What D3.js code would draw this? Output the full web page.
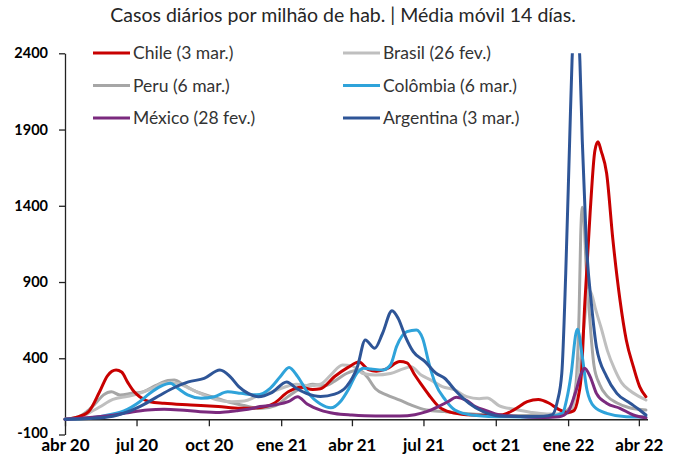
<!DOCTYPE html>
<html><head><meta charset="utf-8">
<script src="https://cdn.jsdelivr.net/npm/d3@7"></script>
<style>body{margin:0;background:#fff}svg{display:block}</style>
</head><body>
<svg id="chart" width="680" height="456"></svg>
<script>
// ---------- data ----------
const titleText = "Casos diários por milhão de hab. | Média móvil 14 días.";
const yTickValues = [-100, 400, 900, 1400, 1900, 2400];
const xTickDates = ["2020-04-01","2020-07-01","2020-10-01","2021-01-01","2021-04-01","2021-07-01","2021-10-01","2022-01-01","2022-04-01"];
const xTickLabels = ["abr 20","jul 20","oct 20","ene 21","abr 21","jul 21","oct 21","ene 22","abr 22"];
const seriesNames = ["Chile (3 mar.)","Brasil (26 fev.)","Peru (6 mar.)","Colômbia (6 mar.)","México (28 fev.)","Argentina (3 mar.)"];
const seriesColors = ["#C80000","#BFBFBF","#A6A6A6","#2FA3DA","#7B2A7E","#2E5597"];

const chileDates = ["2020-04-01","2020-04-15","2020-05-01","2020-05-15","2020-05-25","2020-06-05","2020-06-12","2020-06-20","2020-06-28","2020-07-05","2020-07-18","2020-08-05","2020-09-08","2020-10-13","2020-11-10","2020-12-02","2020-12-23","2021-01-10","2021-01-26","2021-02-10","2021-02-20","2021-03-10","2021-03-27","2021-04-10","2021-04-22","2021-05-02","2021-05-15","2021-06-01","2021-06-10","2021-06-20","2021-06-28","2021-07-08","2021-07-20","2021-08-05","2021-08-25","2021-09-20","2021-10-10","2021-10-25","2021-11-10","2021-11-24","2021-12-08","2021-12-20","2022-01-01","2022-01-08","2022-01-14","2022-01-18","2022-01-22","2022-01-29","2022-02-04","2022-02-08","2022-02-12","2022-02-19","2022-02-27","2022-03-08","2022-03-16","2022-03-25","2022-04-02","2022-04-10"];
const chileValues = [0,12,50,180,285,323,310,240,180,148,115,105,94,83,72,75,105,180,210,195,200,280,340,375,325,315,330,378,370,290,230,159,85,45,30,25,30,65,115,130,105,65,45,55,148,303,738,1353,1760,1820,1760,1613,1176,782,520,345,214,148];

const brasilDates = ["2020-04-01","2020-04-20","2020-05-01","2020-05-15","2020-06-01","2020-06-20","2020-07-05","2020-07-20","2020-08-05","2020-08-20","2020-09-05","2020-09-20","2020-10-10","2020-10-30","2020-11-15","2020-12-01","2020-12-20","2021-01-05","2021-01-20","2021-02-05","2021-02-20","2021-03-05","2021-03-20","2021-04-01","2021-04-15","2021-05-01","2021-05-20","2021-06-05","2021-06-15","2021-06-28","2021-07-10","2021-07-25","2021-08-10","2021-08-25","2021-09-10","2021-09-20","2021-10-05","2021-10-25","2021-11-15","2021-12-05","2021-12-20","2022-01-01","2022-01-08","2022-01-13","2022-01-18","2022-01-22","2022-01-27","2022-01-31","2022-02-05","2022-02-12","2022-02-20","2022-03-01","2022-03-10","2022-03-20","2022-04-01","2022-04-10"];
const brasilValues = [0,10,40,80,130,150,170,200,236,236,205,170,130,115,120,150,180,210,230,220,230,290,356,350,300,290,300,330,345,290,258,214,192,148,135,140,90,65,45,35,35,40,100,250,450,650,850,820,720,600,450,330,240,190,150,126];

const peruDates = ["2020-04-01","2020-04-20","2020-05-01","2020-05-10","2020-05-20","2020-05-30","2020-06-10","2020-06-25","2020-07-10","2020-07-25","2020-08-10","2020-08-18","2020-08-30","2020-09-15","2020-10-05","2020-10-25","2020-11-15","2020-12-05","2020-12-25","2021-01-10","2021-01-25","2021-02-10","2021-02-25","2021-03-10","2021-03-25","2021-04-10","2021-04-20","2021-05-01","2021-05-15","2021-06-01","2021-06-15","2021-07-05","2021-07-28","2021-08-20","2021-09-20","2021-10-20","2021-11-20","2021-12-15","2021-12-31","2022-01-08","2022-01-12","2022-01-15","2022-01-17","2022-01-19","2022-01-21","2022-01-24","2022-01-28","2022-01-31","2022-02-03","2022-02-10","2022-02-20","2022-03-05","2022-03-20","2022-04-10"];
const peruValues = [0,20,60,105,160,181,159,170,181,220,255,258,225,181,148,115,90,70,90,150,200,230,220,250,300,323,280,200,160,125,94,61,50,40,30,25,25,30,60,130,300,700,1200,1390,1330,1000,700,500,350,230,150,105,75,60];

const colombiaDates = ["2020-04-01","2020-05-01","2020-06-01","2020-06-15","2020-07-05","2020-07-18","2020-07-31","2020-08-13","2020-08-22","2020-09-04","2020-09-21","2020-10-08","2020-10-25","2020-11-11","2020-12-01","2020-12-18","2020-12-31","2021-01-11","2021-01-22","2021-02-03","2021-02-20","2021-03-05","2021-03-18","2021-03-28","2021-04-07","2021-04-16","2021-04-25","2021-05-10","2021-05-20","2021-05-28","2021-06-10","2021-06-22","2021-06-30","2021-07-08","2021-07-16","2021-07-29","2021-08-10","2021-08-31","2021-10-01","2021-11-01","2021-12-01","2021-12-25","2021-12-30","2022-01-05","2022-01-11","2022-01-13","2022-01-19","2022-01-25","2022-02-03","2022-02-19","2022-03-16","2022-04-10"];
const colombiaValues = [0,8,35,55,115,170,214,236,205,160,138,148,180,170,160,203,280,340,280,181,100,75,120,200,300,334,330,323,356,480,575,586,530,367,236,126,61,28,17,15,12,40,126,302,564,590,411,192,83,39,17,15];

const mexicoDates = ["2020-04-01","2020-05-10","2020-06-05","2020-06-20","2020-07-15","2020-08-05","2020-08-25","2020-09-20","2020-10-15","2020-11-05","2020-11-20","2020-12-05","2020-12-25","2021-01-10","2021-01-22","2021-02-03","2021-02-20","2021-03-10","2021-04-01","2021-05-01","2021-06-01","2021-06-20","2021-07-05","2021-07-20","2021-08-01","2021-08-12","2021-08-24","2021-09-05","2021-09-20","2021-10-05","2021-11-01","2021-12-01","2021-12-21","2022-01-01","2022-01-10","2022-01-18","2022-01-22","2022-01-29","2022-02-06","2022-02-19","2022-03-08","2022-03-25","2022-04-10"];
const mexicoValues = [0,15,30,43,61,65,61,50,45,55,65,83,95,115,148,100,60,38,28,22,22,30,50,83,115,144,126,83,55,30,18,12,17,50,170,302,334,280,170,105,72,28,10];

const argentinaDates = ["2020-04-01","2020-05-01","2020-06-01","2020-06-15","2020-07-05","2020-07-25","2020-08-15","2020-09-05","2020-09-25","2020-10-15","2020-10-28","2020-11-08","2020-11-20","2020-12-03","2020-12-20","2021-01-08","2021-01-20","2021-02-02","2021-02-20","2021-03-10","2021-03-25","2021-04-08","2021-04-18","2021-04-30","2021-05-10","2021-05-22","2021-05-30","2021-06-08","2021-06-18","2021-07-03","2021-07-17","2021-07-28","2021-08-10","2021-08-28","2021-09-15","2021-10-05","2021-11-01","2021-12-01","2021-12-12","2021-12-18","2021-12-24","2021-12-29","2022-01-03","2022-01-06","2022-01-09","2022-01-13","2022-01-16","2022-01-19","2022-01-24","2022-01-31","2022-02-06","2022-02-19","2022-03-04","2022-03-21","2022-04-02","2022-04-10"];
const argentinaValues = [0,5,20,40,83,140,200,245,268,323,280,214,170,148,175,245,203,170,150,165,214,345,520,466,564,712,660,542,443,378,302,269,192,105,50,22,18,20,30,110,302,959,1832,2350,2600,2600,2350,1832,1176,738,476,280,170,105,61,28];

// ---------- chart ----------
const svg = d3.select("#chart");
const parse = d3.utcParse("%Y-%m-%d");
const FONT = "Lato, 'Open Sans', sans-serif";

const x = d3.scaleUtc().domain([parse("2020-04-01"), parse("2022-04-12")]).range([65, 647.5]);
const y = d3.scaleLinear().domain([-100, 2400]).range([434.5, 53.3]);

const series = [
  {name: seriesNames[0], color: seriesColors[0], dates: chileDates, values: chileValues},
  {name: seriesNames[1], color: seriesColors[1], dates: brasilDates, values: brasilValues},
  {name: seriesNames[2], color: seriesColors[2], dates: peruDates, values: peruValues},
  {name: seriesNames[3], color: seriesColors[3], dates: colombiaDates, values: colombiaValues},
  {name: seriesNames[4], color: seriesColors[4], dates: mexicoDates, values: mexicoValues},
  {name: seriesNames[5], color: seriesColors[5], dates: argentinaDates, values: argentinaValues}
];

// title
svg.append("text").attr("x", 343).attr("y", 22).attr("text-anchor", "middle")
  .attr("font-family", FONT).attr("font-size", 19.5).attr("fill", "#262626").text(titleText);

// clip
svg.append("defs").append("clipPath").attr("id", "plotClip")
  .append("rect").attr("x", 60).attr("y", y(2400)).attr("width", 600).attr("height", y(-100) - y(2400));

// y axis
const yAxis = svg.append("g").attr("transform", "translate(65,0)")
  .call(d3.axisLeft(y).tickValues(yTickValues).tickSize(6).tickSizeOuter(0).tickPadding(11).tickFormat(d => String(d)));
yAxis.selectAll("text").attr("font-family", FONT).attr("font-size", 14.5).attr("font-weight", "bold").attr("fill", "#000")
  .attr("dy", d => d === -100 ? "0.2em" : "0.32em");
yAxis.selectAll("line, path").attr("stroke", "#222").attr("stroke-width", 1.3);

// x axis
const xAxis = svg.append("g").attr("transform", `translate(0,${y(0)})`)
  .call(d3.axisBottom(x).tickValues(xTickDates.map(parse)).tickSize(7).tickSizeOuter(0).tickPadding(13)
    .tickFormat((d, i) => xTickLabels[i]));
xAxis.selectAll("text").attr("font-family", FONT).attr("font-size", 17).attr("font-weight", "bold").attr("fill", "#000");
xAxis.selectAll("line, path").attr("stroke", "#222").attr("stroke-width", 1.3);

// lines
const line = d3.line().x(d => x(d[0])).y(d => y(d[1])).curve(d3.curveMonotoneX);
const drawOrder = [2, 1, 0, 3, 4, 5];
const gLines = svg.append("g").attr("clip-path", "url(#plotClip)");
drawOrder.forEach(i => {
  const s = series[i];
  const pts = s.dates.map((d, k) => [parse(d), s.values[k]]);
  gLines.append("path").attr("d", line(pts)).attr("fill", "none")
    .attr("stroke", s.color).attr("stroke-width", 3).attr("stroke-linejoin", "round").attr("stroke-linecap", "round");
});

// legend
const legCols = [93, 343], legRows = [53, 85.5, 118];
series.forEach((s, i) => {
  const lx = legCols[i % 2], ly = legRows[Math.floor(i / 2)];
  const g = svg.append("g");
  g.append("line").attr("x1", lx).attr("x2", lx + 37).attr("y1", ly).attr("y2", ly)
    .attr("stroke", s.color).attr("stroke-width", 3.2);
  g.append("text").attr("x", lx + 40).attr("y", ly).attr("dy", "0.35em")
    .attr("font-family", FONT).attr("font-size", 17.5).attr("fill", "#333").text(s.name);
});
</script>
</body></html>
